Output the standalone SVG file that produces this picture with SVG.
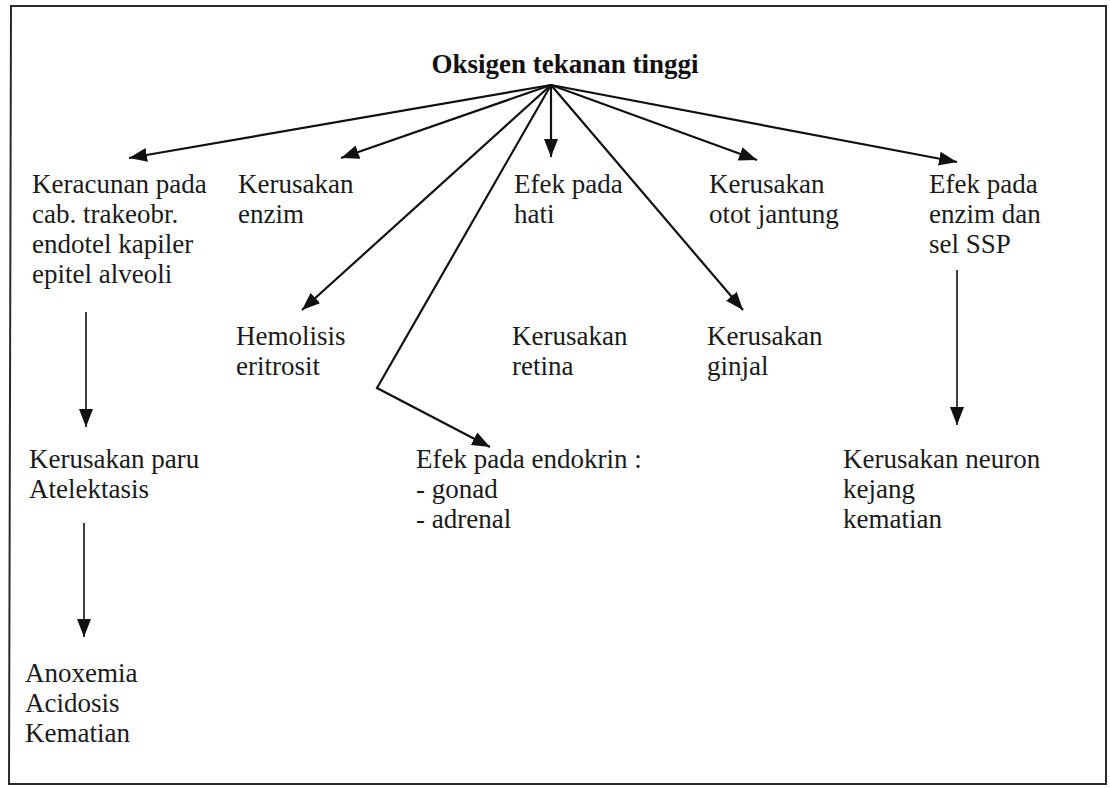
<svg xmlns="http://www.w3.org/2000/svg" width="1110" height="788" viewBox="0 0 1110 788">
<style>
.t{font-family:'Liberation Serif','Times New Roman',serif;font-size:27px;fill:#1a1a1a}
.title{font-family:'Liberation Serif','Times New Roman',serif;font-size:27px;font-weight:bold;fill:#111}
.c{fill:none;stroke:#111;stroke-width:2.2}
.v{fill:none;stroke:#111;stroke-width:1.6}
</style>
<defs>
<marker id="ah" viewBox="0 0 18 14" refX="18" refY="7" markerWidth="18" markerHeight="14" markerUnits="userSpaceOnUse" orient="auto">
<path d="M0,0 L18,7 L0,14 z" fill="#111"/>
</marker>
</defs>
<rect x="0" y="0" width="1110" height="788" fill="#fff"/>
<path d="M11,6 L1106,6 L1106,784 L9,784 Z" fill="none" stroke="#2a2a2a" stroke-width="2"/>
<g id="connectors">
<line class="c" x1="551" y1="85" x2="129" y2="158" marker-end="url(#ah)"/>
<line class="c" x1="551" y1="85" x2="341" y2="158" marker-end="url(#ah)"/>
<line class="c" x1="551" y1="85" x2="302" y2="310" marker-end="url(#ah)"/>
<polyline class="c" points="551,85 377,388 490,447" marker-end="url(#ah)"/>
<line class="c" x1="551" y1="85" x2="551" y2="157" marker-end="url(#ah)"/>
<line class="c" x1="551" y1="85" x2="743" y2="310" marker-end="url(#ah)"/>
<line class="c" x1="551" y1="85" x2="757" y2="160" marker-end="url(#ah)"/>
<line class="c" x1="551" y1="85" x2="957" y2="162" marker-end="url(#ah)"/>
<line class="v" x1="86" y1="312" x2="86" y2="427" marker-end="url(#ah)"/>
<line class="v" x1="84" y1="523" x2="84" y2="637" marker-end="url(#ah)"/>
<line class="v" x1="957" y1="270" x2="957" y2="425" marker-end="url(#ah)"/>
</g>
<g id="n-root"><text class="title" x="565" y="73" text-anchor="middle">Oksigen tekanan tinggi</text></g>
<g id="n-keracunan"><text class="t" x="32" y="193">Keracunan pada</text><text class="t" x="32" y="223">cab. trakeobr.</text><text class="t" x="32" y="253">endotel kapiler</text><text class="t" x="32" y="283">epitel alveoli</text></g>
<g id="n-enzim"><text class="t" x="238" y="193">Kerusakan</text><text class="t" x="238" y="223">enzim</text></g>
<g id="n-hati"><text class="t" x="514" y="193">Efek pada</text><text class="t" x="514" y="223">hati</text></g>
<g id="n-jantung"><text class="t" x="709" y="193">Kerusakan</text><text class="t" x="709" y="223">otot jantung</text></g>
<g id="n-ssp"><text class="t" x="929" y="193">Efek pada</text><text class="t" x="929" y="223">enzim dan</text><text class="t" x="929" y="253">sel SSP</text></g>
<g id="n-hemolisis"><text class="t" x="236" y="345">Hemolisis</text><text class="t" x="236" y="375">eritrosit</text></g>
<g id="n-retina"><text class="t" x="512" y="345">Kerusakan</text><text class="t" x="512" y="375">retina</text></g>
<g id="n-ginjal"><text class="t" x="707" y="345">Kerusakan</text><text class="t" x="707" y="375">ginjal</text></g>
<g id="n-paru"><text class="t" x="29" y="468">Kerusakan paru</text><text class="t" x="29" y="498">Atelektasis</text></g>
<g id="n-endokrin"><text class="t" x="416" y="468">Efek pada endokrin :</text><text class="t" x="416" y="498">- gonad</text><text class="t" x="416" y="528">- adrenal</text></g>
<g id="n-neuron"><text class="t" x="843" y="468">Kerusakan neuron</text><text class="t" x="843" y="498">kejang</text><text class="t" x="843" y="528">kematian</text></g>
<g id="n-anoxemia"><text class="t" x="25" y="682">Anoxemia</text><text class="t" x="25" y="712">Acidosis</text><text class="t" x="25" y="742">Kematian</text></g>
</svg>
